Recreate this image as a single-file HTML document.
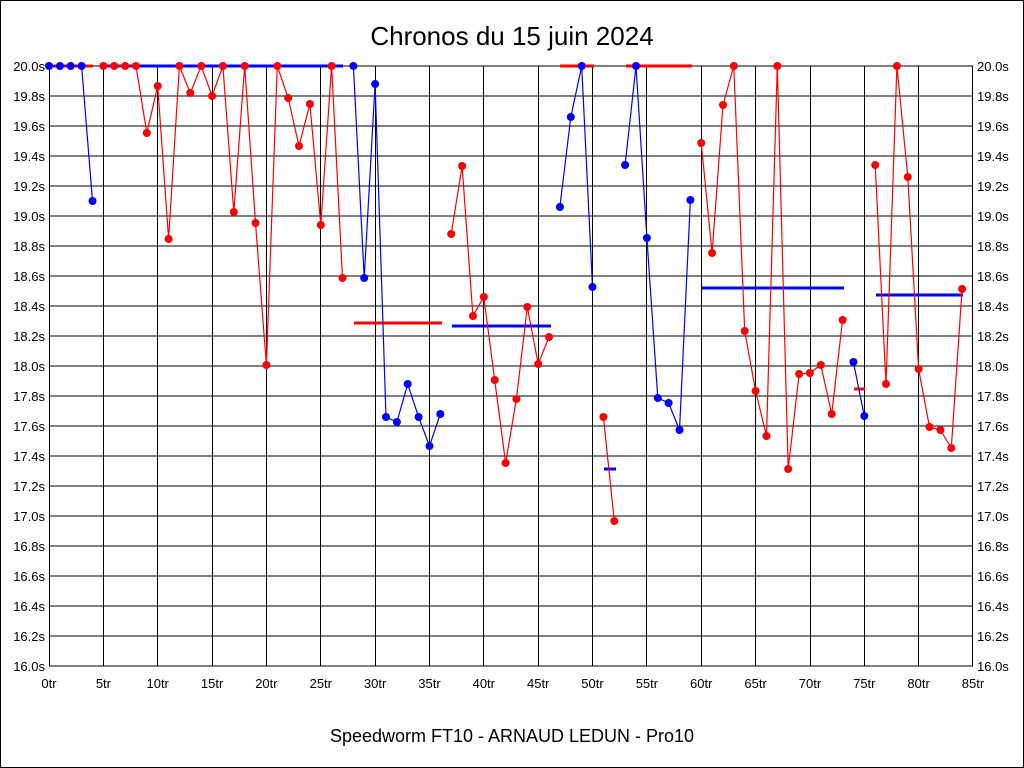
<!DOCTYPE html>
<html><head><meta charset="utf-8"><style>
html,body{margin:0;padding:0;background:#fff}
svg{display:block}
text{font-family:"Liberation Sans",Arial,sans-serif;fill:#000}
circle{r:4}
</style></head><body>
<svg width="1024" height="768" viewBox="0 0 1024 768" xmlns="http://www.w3.org/2000/svg">
<rect x="0.5" y="0.5" width="1023" height="767" fill="#fff" stroke="#000"/>
<text x="512" y="45" font-size="26" text-anchor="middle">Chronos du 15 juin 2024</text>
<text x="512" y="742" font-size="18" text-anchor="middle">Speedworm FT10 - ARNAUD LEDUN - Pro10</text>
<g stroke="#000" stroke-width="1" shape-rendering="crispEdges">
<path d="M49 66H973M49 96H973M49 126H973M49 156H973M49 186H973M49 216H973M49 246H973M49 276H973M49 306H973M49 336H973M49 366H973M49 396H973M49 426H973M49 456H973M49 486H973M49 516H973M49 546H973M49 576H973M49 606H973M49 636H973M49 666H973"/>
<path d="M49.5 66V666M103.5 66V666M157.5 66V666M212.5 66V666M266.5 66V666M320.5 66V666M375.5 66V666M429.5 66V666M483.5 66V666M538.5 66V666M592.5 66V666M646.5 66V666M701.5 66V666M755.5 66V666M810.5 66V666M864.5 66V666M918.5 66V666M972.5 66V666"/>
</g>
<g font-size="13" text-anchor="end">
<text x="45" y="71">20.0s</text><text x="45" y="101">19.8s</text><text x="45" y="131">19.6s</text><text x="45" y="161">19.4s</text><text x="45" y="191">19.2s</text><text x="45" y="221">19.0s</text><text x="45" y="251">18.8s</text><text x="45" y="281">18.6s</text><text x="45" y="311">18.4s</text><text x="45" y="341">18.2s</text><text x="45" y="371">18.0s</text><text x="45" y="401">17.8s</text><text x="45" y="431">17.6s</text><text x="45" y="461">17.4s</text><text x="45" y="491">17.2s</text><text x="45" y="521">17.0s</text><text x="45" y="551">16.8s</text><text x="45" y="581">16.6s</text><text x="45" y="611">16.4s</text><text x="45" y="641">16.2s</text><text x="45" y="671">16.0s</text>
</g>
<g font-size="13" text-anchor="start">
<text x="977" y="71">20.0s</text><text x="977" y="101">19.8s</text><text x="977" y="131">19.6s</text><text x="977" y="161">19.4s</text><text x="977" y="191">19.2s</text><text x="977" y="221">19.0s</text><text x="977" y="251">18.8s</text><text x="977" y="281">18.6s</text><text x="977" y="311">18.4s</text><text x="977" y="341">18.2s</text><text x="977" y="371">18.0s</text><text x="977" y="401">17.8s</text><text x="977" y="431">17.6s</text><text x="977" y="461">17.4s</text><text x="977" y="491">17.2s</text><text x="977" y="521">17.0s</text><text x="977" y="551">16.8s</text><text x="977" y="581">16.6s</text><text x="977" y="611">16.4s</text><text x="977" y="641">16.2s</text><text x="977" y="671">16.0s</text>
</g>
<g font-size="13" text-anchor="middle">
<text x="49" y="688">0tr</text><text x="103.4" y="688">5tr</text><text x="157.7" y="688">10tr</text><text x="212.1" y="688">15tr</text><text x="266.4" y="688">20tr</text><text x="320.8" y="688">25tr</text><text x="375.1" y="688">30tr</text><text x="429.5" y="688">35tr</text><text x="483.8" y="688">40tr</text><text x="538.2" y="688">45tr</text><text x="592.5" y="688">50tr</text><text x="646.9" y="688">55tr</text><text x="701.2" y="688">60tr</text><text x="755.6" y="688">65tr</text><text x="810" y="688">70tr</text><text x="864.3" y="688">75tr</text><text x="918.6" y="688">80tr</text><text x="973" y="688">85tr</text>
</g>
<g stroke-width="3" fill="none">
<path stroke="#f00" d="M49 66H93"/>
<path stroke="#00f" d="M104 66H343"/>
<path stroke="#f00" d="M354 323H442"/>
<path stroke="#00f" d="M452 326H551"/>
<path stroke="#f00" d="M560 66H594"/>
<path stroke="#f00" d="M626 66H692"/>
<path stroke="#00f" d="M604 469H616"/>
<path stroke="#00f" d="M702 288H844"/>
<path stroke="#f00" d="M854 389H865"/>
<path stroke="#00f" d="M876 295H963"/>
</g>
<g fill="none" stroke-width="1.2">
<polyline stroke="#00f" points="49,66 59.9,66 70.7,66 81.6,66 92.5,201"/>
<polyline stroke="#f00" points="103.4,66 114.2,66 125.1,66 136,66 146.8,133 157.7,86 168.6,239 179.4,66 190.3,93 201.2,66 212.1,96 222.9,66 233.8,212 244.7,66 255.5,223 266.4,365 277.3,66 288.2,98 299,146 309.9,104 320.8,225 331.6,66 342.5,278"/>
<polyline stroke="#00f" points="353.4,66 364.2,278 375.1,84 386,417 396.9,422 407.7,384 418.6,417 429.5,446 440.3,414"/>
<polyline stroke="#f00" points="451.2,234 462.1,166 472.9,316 483.8,297 494.7,380 505.6,463 516.4,399 527.3,307 538.2,364 549,337"/>
<polyline stroke="#00f" points="559.9,207 570.8,117 581.7,66 592.5,287"/>
<polyline stroke="#f00" points="603.4,417 614.3,521"/>
<polyline stroke="#00f" points="625.1,165 636,66 646.9,238 657.8,398 668.6,403 679.5,430 690.4,200"/>
<polyline stroke="#f00" points="701.2,143 712.1,253 723,105 733.8,66 744.7,331 755.6,391 766.5,436 777.3,66 788.2,469 799.1,374 809.9,373 820.8,365 831.7,414 842.6,320"/>
<polyline stroke="#00f" points="853.4,362 864.3,416"/>
<polyline stroke="#f00" points="875.2,165 886,384 896.9,66 907.8,177 918.6,369 929.5,427 940.4,430 951.3,448 962.1,289"/>
</g>
<g fill="#00f">
<circle cx="49" cy="66" r="4"/><circle cx="59.9" cy="66" r="4"/><circle cx="70.7" cy="66" r="4"/><circle cx="81.6" cy="66" r="4"/><circle cx="92.5" cy="201" r="4"/>
<circle cx="353.4" cy="66" r="4"/><circle cx="364.2" cy="278" r="4"/><circle cx="375.1" cy="84" r="4"/><circle cx="386" cy="417" r="4"/><circle cx="396.9" cy="422" r="4"/><circle cx="407.7" cy="384" r="4"/><circle cx="418.6" cy="417" r="4"/><circle cx="429.5" cy="446" r="4"/><circle cx="440.3" cy="414" r="4"/>
<circle cx="559.9" cy="207" r="4"/><circle cx="570.8" cy="117" r="4"/><circle cx="581.7" cy="66" r="4"/><circle cx="592.5" cy="287" r="4"/>
<circle cx="625.1" cy="165" r="4"/><circle cx="636" cy="66" r="4"/><circle cx="646.9" cy="238" r="4"/><circle cx="657.8" cy="398" r="4"/><circle cx="668.6" cy="403" r="4"/><circle cx="679.5" cy="430" r="4"/><circle cx="690.4" cy="200" r="4"/>
<circle cx="853.4" cy="362" r="4"/><circle cx="864.3" cy="416" r="4"/>
</g>
<g fill="#f00">
<circle cx="103.4" cy="66" r="4"/><circle cx="114.2" cy="66" r="4"/><circle cx="125.1" cy="66" r="4"/><circle cx="136" cy="66" r="4"/><circle cx="146.8" cy="133" r="4"/><circle cx="157.7" cy="86" r="4"/><circle cx="168.6" cy="239" r="4"/><circle cx="179.4" cy="66" r="4"/><circle cx="190.3" cy="93" r="4"/><circle cx="201.2" cy="66" r="4"/><circle cx="212.1" cy="96" r="4"/><circle cx="222.9" cy="66" r="4"/><circle cx="233.8" cy="212" r="4"/><circle cx="244.7" cy="66" r="4"/><circle cx="255.5" cy="223" r="4"/><circle cx="266.4" cy="365" r="4"/><circle cx="277.3" cy="66" r="4"/><circle cx="288.2" cy="98" r="4"/><circle cx="299" cy="146" r="4"/><circle cx="309.9" cy="104" r="4"/><circle cx="320.8" cy="225" r="4"/><circle cx="331.6" cy="66" r="4"/><circle cx="342.5" cy="278" r="4"/>
<circle cx="451.2" cy="234" r="4"/><circle cx="462.1" cy="166" r="4"/><circle cx="472.9" cy="316" r="4"/><circle cx="483.8" cy="297" r="4"/><circle cx="494.7" cy="380" r="4"/><circle cx="505.6" cy="463" r="4"/><circle cx="516.4" cy="399" r="4"/><circle cx="527.3" cy="307" r="4"/><circle cx="538.2" cy="364" r="4"/><circle cx="549" cy="337" r="4"/>
<circle cx="603.4" cy="417" r="4"/><circle cx="614.3" cy="521" r="4"/>
<circle cx="701.2" cy="143" r="4"/><circle cx="712.1" cy="253" r="4"/><circle cx="723" cy="105" r="4"/><circle cx="733.8" cy="66" r="4"/><circle cx="744.7" cy="331" r="4"/><circle cx="755.6" cy="391" r="4"/><circle cx="766.5" cy="436" r="4"/><circle cx="777.3" cy="66" r="4"/><circle cx="788.2" cy="469" r="4"/><circle cx="799.1" cy="374" r="4"/><circle cx="809.9" cy="373" r="4"/><circle cx="820.8" cy="365" r="4"/><circle cx="831.7" cy="414" r="4"/><circle cx="842.6" cy="320" r="4"/>
<circle cx="875.2" cy="165" r="4"/><circle cx="886" cy="384" r="4"/><circle cx="896.9" cy="66" r="4"/><circle cx="907.8" cy="177" r="4"/><circle cx="918.6" cy="369" r="4"/><circle cx="929.5" cy="427" r="4"/><circle cx="940.4" cy="430" r="4"/><circle cx="951.3" cy="448" r="4"/><circle cx="962.1" cy="289" r="4"/>
</g>
</svg>
</body></html>
